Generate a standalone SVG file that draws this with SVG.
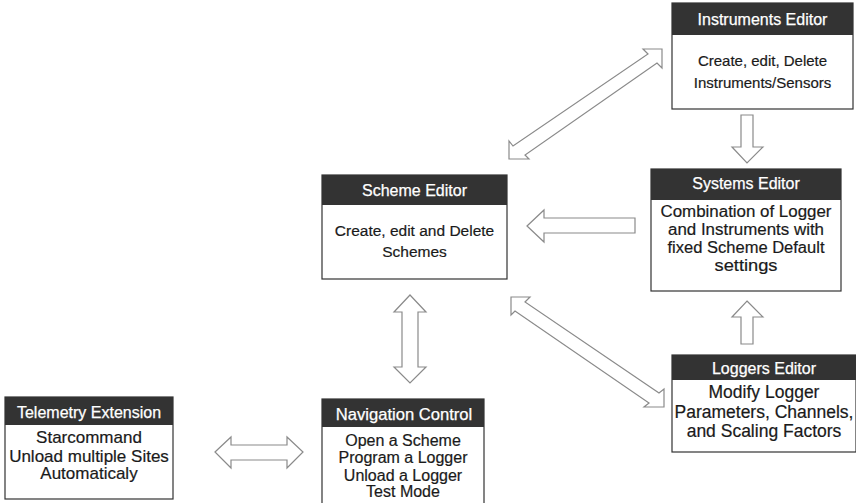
<svg xmlns="http://www.w3.org/2000/svg" width="856" height="503" viewBox="0 0 856 503">
<style>
.box{fill:#fff;stroke:#333;stroke-width:1.2}
.hdr{fill:#333}
.ttl{font-family:"Liberation Sans",Arial,sans-serif;font-size:16px;fill:#fff;stroke:#fff;stroke-width:0.25;text-anchor:middle}
.txt{font-family:"Liberation Sans",Arial,sans-serif;font-size:15px;fill:#1a1a1a;stroke:#1a1a1a;stroke-width:0.2;text-anchor:middle}
.arr{fill:#fff;stroke:#8a8a8a;stroke-width:1.2;stroke-linejoin:miter}
</style>
<rect width="856" height="503" fill="#fff"/>
<g id="connectors">
<polygon class="arr" points="662,49 643,49 648,54 513,146 509,141 509,159 529,159 525,155 657,63 662,68"/>
<polygon class="arr" points="511,297 530,297 525,302 659,393 664,389 664,407 644,407 649,403 515,311 511,315"/>
<polygon class="arr" points="410,295 426,312 418,312 418,367 426,367 410,383 394,367 402,367 402,312 394,312"/>
<polygon class="arr" points="527,226 544,210 544,218 635,218 635,233 544,233 544,242"/>
<polygon class="arr" points="215,452 231,437 231,445 287,445 287,437 303,452 287,468 287,460 231,460 231,468"/>
<polygon class="arr" points="741,115 753,115 753,147 763,147 747,163 732,147 741,147"/>
<polygon class="arr" points="747,301 763,317 753,317 753,344 741,344 741,317 732,317"/>
</g>
<g id="instruments-editor">
<rect class="box" x="672" y="3" width="181" height="106"/>
<rect class="hdr" x="672" y="3" width="181" height="32"/>
<text class="ttl" x="762.5" y="25">Instruments Editor</text>
<text class="txt" x="762.5" y="66">Create, edit, Delete</text>
<text class="txt" x="762.5" y="88">Instruments/Sensors</text>
</g>
<g id="scheme-editor">
<rect class="box" x="322" y="175" width="185" height="104"/>
<rect class="hdr" x="322" y="175" width="185" height="30"/>
<text class="ttl" x="414.5" y="196">Scheme Editor</text>
<text class="txt" x="414.5" y="236" style="font-size:15.5px">Create, edit and Delete</text>
<text class="txt" x="414.5" y="257" style="font-size:15.5px">Schemes</text>
</g>
<g id="systems-editor">
<rect class="box" x="651" y="169" width="190" height="122"/>
<rect class="hdr" x="651" y="169" width="190" height="31"/>
<text class="ttl" x="746" y="189">Systems Editor</text>
<text class="txt" x="746" y="217" style="font-size:16px" textLength="171" lengthAdjust="spacingAndGlyphs">Combination of Logger</text>
<text class="txt" x="746" y="235" style="font-size:16px" textLength="156" lengthAdjust="spacingAndGlyphs">and Instruments with</text>
<text class="txt" x="746" y="253" style="font-size:16px" textLength="157" lengthAdjust="spacingAndGlyphs">fixed Scheme Default</text>
<text class="txt" x="746" y="271" style="font-size:16px" textLength="63" lengthAdjust="spacingAndGlyphs">settings</text>
</g>
<g id="loggers-editor">
<rect class="box" x="672" y="355" width="184" height="97"/>
<rect class="hdr" x="672" y="355" width="184" height="25"/>
<text class="ttl" x="764" y="374">Loggers Editor</text>
<text class="txt" x="764" y="398" style="font-size:17.5px">Modify Logger</text>
<text class="txt" x="764" y="417.5" style="font-size:17.5px">Parameters, Channels,</text>
<text class="txt" x="764" y="437" style="font-size:17.5px">and Scaling Factors</text>
</g>
<g id="telemetry-extension">
<rect class="box" x="5" y="397" width="168" height="102"/>
<rect class="hdr" x="5" y="397" width="168" height="28"/>
<text class="ttl" x="89" y="418">Telemetry Extension</text>
<text class="txt" x="89" y="443" style="font-size:17px">Starcommand</text>
<text class="txt" x="89" y="461.5" style="font-size:17px">Unload multiple Sites</text>
<text class="txt" x="89" y="479" style="font-size:17px">Automaticaly</text>
</g>
<g id="navigation-control">
<rect class="box" x="322" y="399" width="162" height="110"/>
<rect class="hdr" x="322" y="399" width="162" height="28"/>
<text class="ttl" x="404" y="420" style="font-size:16.6px">Navigation Control</text>
<text class="txt" x="403" y="446" style="font-size:16px">Open a Scheme</text>
<text class="txt" x="403" y="463" style="font-size:16px">Program a Logger</text>
<text class="txt" x="403" y="480.5" style="font-size:16px">Unload a Logger</text>
<text class="txt" x="403" y="497" style="font-size:16px">Test Mode</text>
</g>
</svg>
